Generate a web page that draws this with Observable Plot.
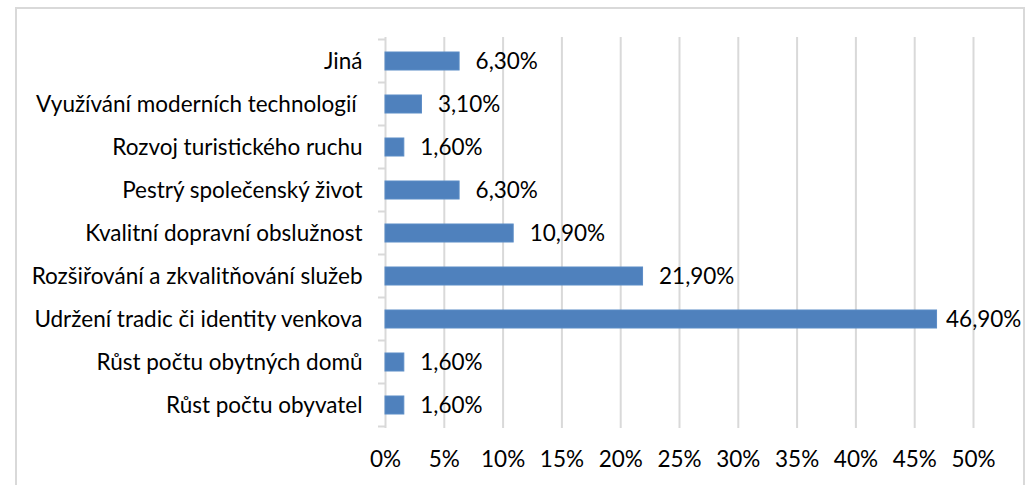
<!DOCTYPE html>
<html><head><meta charset="utf-8">
<script src="https://cdn.jsdelivr.net/npm/d3@7"></script>
<script src="https://cdn.jsdelivr.net/npm/@observablehq/plot@0.6"></script>
<style>
html,body{margin:0;padding:0;background:#fff;overflow:hidden;width:1029px;height:485px;}
#frame{position:absolute;left:15px;top:7px;width:1010px;height:600px;border:2px solid #d9d9d9;box-sizing:border-box;}
#chart{position:absolute;left:0;top:0;}
</style></head><body>
<div id="frame"></div><div id="chart"></div>
<script>
const categories = [
  "Jiná",
  "Využívání moderních technologií\u00a0",
  "Rozvoj turistického ruchu",
  "Pestrý společenský život",
  "Kvalitní dopravní obslužnost",
  "Rozšiřování a zkvalitňování služeb",
  "Udržení tradic či identity venkova",
  "Růst počtu obytných domů",
  "Růst počtu obyvatel"
];
const values = [6.3, 3.1, 1.6, 6.3, 10.9, 21.9, 46.9, 1.6, 1.6];
const xTicks = [0, 5, 10, 15, 20, 25, 30, 35, 40, 45, 50];

const data = categories.map((c, i) => ({category: c, value: values[i]}));
const fmt = v => d3.format(".2f")(v).replace(".", ",") + "%";

const plot = Plot.plot({
  width: 1029, height: 485,
  marginLeft: 385, marginRight: 56, marginTop: 37, marginBottom: 57,
  style: {fontFamily: "Lato, sans-serif", fontSize: "22.5px", color: "#000", background: "transparent"},
  x: {domain: [0, 50], ticks: xTicks, label: null},
  y: {domain: categories, paddingInner: 0.59, paddingOuter: 0.295, label: null},
  marks: [
    Plot.gridX(xTicks.slice(1), {stroke: "#d9d9d9", strokeOpacity: 1, strokeWidth: 2}),
    Plot.ruleX([0], {stroke: "#d9d9d9", strokeWidth: 2}),
    Plot.axisX({ticks: xTicks, tickSize: 0, tickPadding: 23, tickFormat: d => d + "%", label: null}),
    Plot.axisY({tickSize: 0, tickPadding: 23, label: null}),
    Plot.barX(data, {x: "value", y: "category", fill: "#4f81bd", stroke: "#5b8cc6", strokeWidth: 1}),
    Plot.text(data.filter(d => d.value < 40), {x: "value", y: "category", text: d => fmt(d.value), textAnchor: "start", dx: 16, fill: "#000"}),
    Plot.text(data.filter(d => d.value >= 40), {x: "value", y: "category", text: d => fmt(d.value), textAnchor: "start", dx: 9, fill: "#000"})
  ]
});
document.getElementById("chart").appendChild(plot);

// small tick marks at category boundaries on the category axis (Excel style)
const ys = plot.scale("y");
const xs = plot.scale("x");
const x0 = xs.apply(0);
const gap = (ys.step - ys.bandwidth) / 2;
const bounds = categories.map(c => ys.apply(c) - gap);
bounds.push(ys.apply(categories[categories.length - 1]) + ys.bandwidth + gap);
d3.select(plot).append("g")
  .selectAll("line").data(bounds).join("line")
  .attr("x1", x0 - 7).attr("x2", x0)
  .attr("y1", d => d).attr("y2", d => d)
  .attr("stroke", "#d9d9d9").attr("stroke-width", 2);
</script>
</body></html>
